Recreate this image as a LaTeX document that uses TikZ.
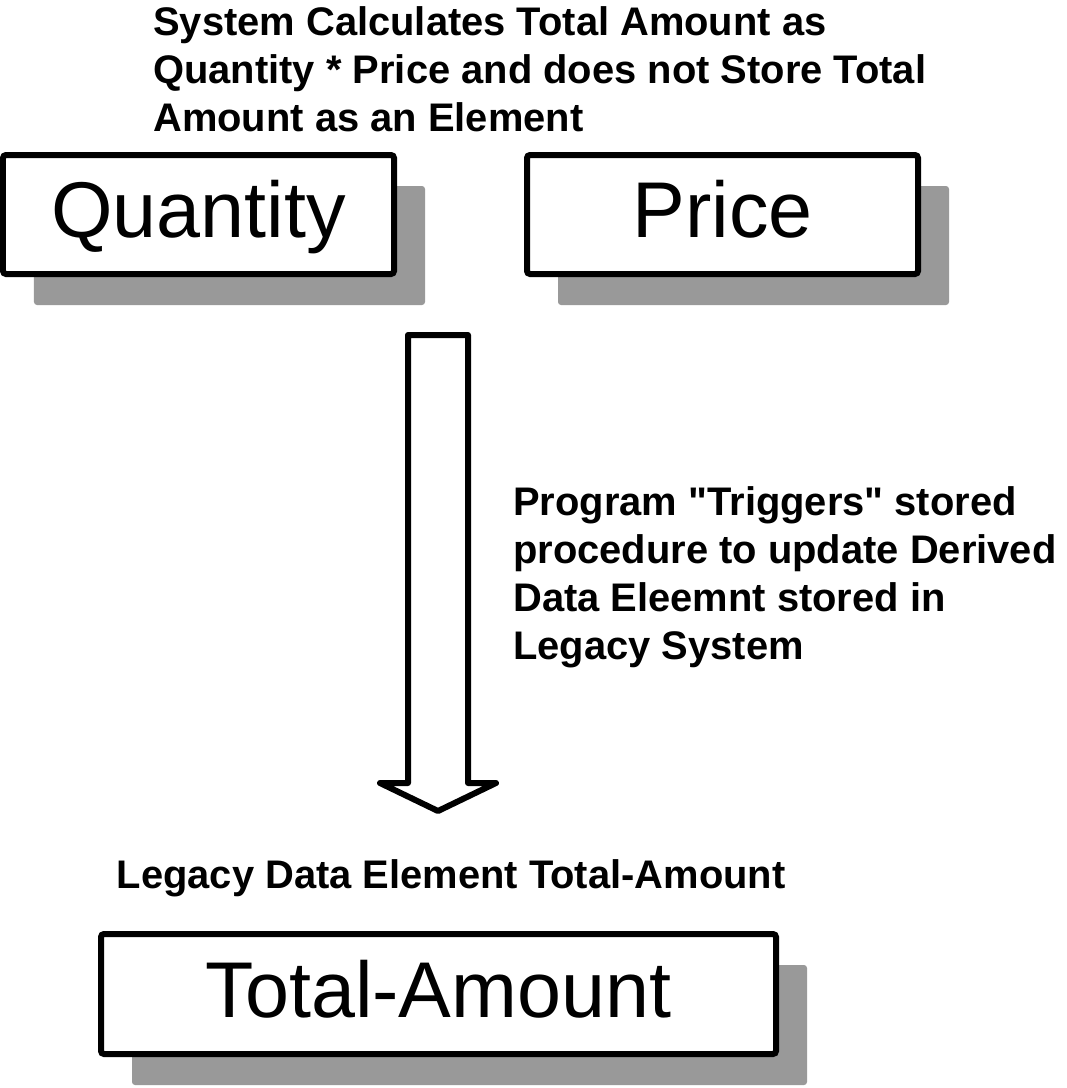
\documentclass[tikz,border=0pt]{standalone}
\usepackage{fontspec}
\newfontfamily\arialfont{Liberation Sans}
\usetikzlibrary{shadows}

\begin{document}
\begin{tikzpicture}[
  field/.style={draw, line width=0.12cm, rounded corners=0.06cm, fill=white,
    inner sep=0pt, minimum height=2.38cm, text height=1.13cm, text depth=0.2cm,
    font=\arialfont\fontsize{45}{54}\selectfont,
    drop shadow={shadow xshift=0.62cm, shadow yshift=-0.62cm, fill=black!40, opacity=1}},
  note/.style={inner sep=0pt, align=left, font=\arialfont\fontsize{22.7}{27.3}\selectfont\bfseries},
  blockarr/.style={draw, line width=0.12cm, line join=round, fill=white},
]
  \useasboundingbox (0,0) rectangle (21.34,-21.76);

  % Top note
  \node[note, anchor=base west] (calc) at (3.06,-2.62)
    {System Calculates Total Amount as\\Quantity * Price and does not Store Total\\Amount as an Element};

  % Source elements
  \node[field, minimum width=7.82cm] (qty) at (3.97,-4.29) {Quantity};
  \node[field, minimum width=7.82cm] (price) at (14.45,-4.29) {Price};

  % Block arrow
  \coordinate (flowtop) at (8.76,-6.70);
  \coordinate (flowtip) at (8.76,-16.22);
  \draw[blockarr] (flowtop) ++(-0.60,0) -- ++(0,-8.96) -- ++(-0.56,0) -- (flowtip)
    -- ++(1.16,0.56) -- ++(-0.56,0) -- ++(0,8.96) -- cycle;

  % Trigger note
  \node[note, anchor=base west] (trig) at (10.26,-13.18)
    {Program "Triggers" stored\\procedure to update Derived\\Data Eleemnt stored in\\Legacy System};

  % Legacy element
  \node[note, anchor=base west] (legacy) at (2.33,-17.76) {Legacy Data Element Total-Amount};
  \node[field, minimum width=13.5cm, minimum height=2.4cm] (total) at (8.77,-19.88) {Total-Amount};

\end{tikzpicture}
\end{document}
